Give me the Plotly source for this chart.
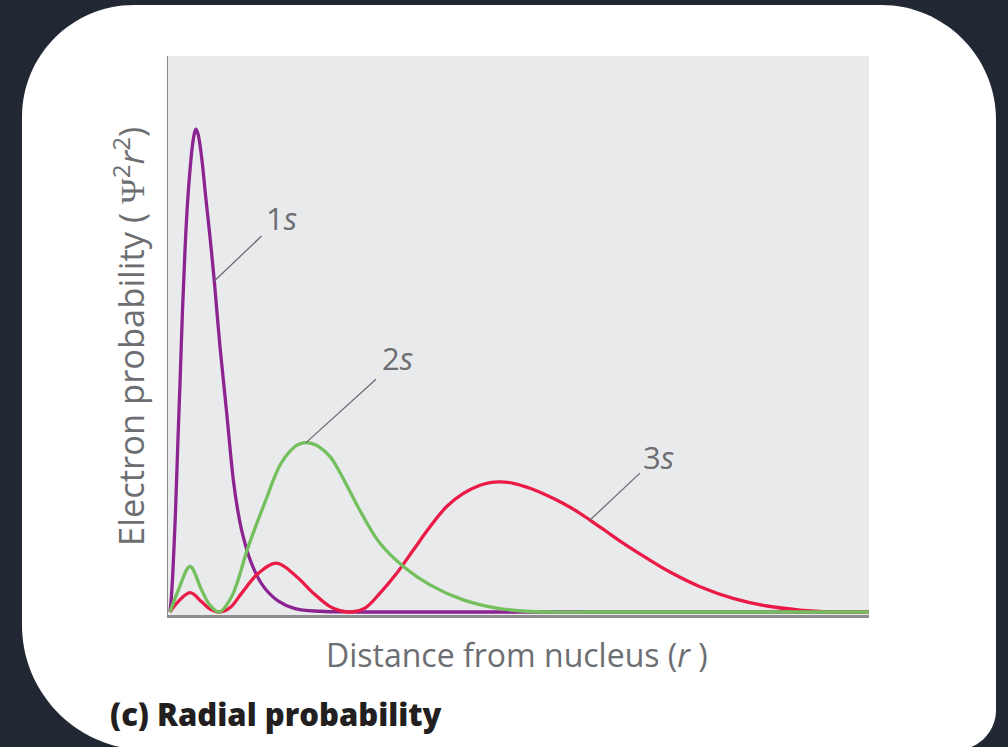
import plotly.graph_objects as go

# Radial distance from the nucleus (in units of the Bohr radius) and the
# relative radial probability.
r_1s = [0.077, 0.127, 0.192, 0.288, 0.373, 0.462, 0.558, 0.654, 0.758, 0.846, 0.942,
        1.019, 1.077, 1.154, 1.231, 1.327, 1.442, 1.615, 1.781, 2.0, 2.258, 2.512,
        2.692, 2.858, 3.192, 3.654, 4.231, 4.885, 5.846, 7.385, 26.962]
p_1s = [0.0, 0.029, 0.087, 0.207, 0.341, 0.473, 0.624, 0.748, 0.851, 0.913, 0.965,
        0.990, 0.998, 0.988, 0.965, 0.924, 0.862, 0.775, 0.684, 0.548, 0.411, 0.273,
        0.207, 0.163, 0.103, 0.054, 0.023, 0.007, 0.0015, 0.0, 0.0]

r_2s = [0.077, 0.396, 0.846, 1.296, 1.615, 1.973, 2.450, 3.088, 3.731, 4.346, 4.885,
        5.077, 5.308, 5.538, 5.769, 6.231, 6.538, 6.873, 7.512, 8.154, 9.050, 10.077,
        11.358, 12.642, 13.923, 16.615, 26.962]
p_2s = [0.0, 0.045, 0.094, 0.045, 0.014, 0.0, 0.032, 0.135, 0.227, 0.307, 0.342,
        0.3475, 0.350, 0.348, 0.3426, 0.321, 0.2955, 0.262, 0.197, 0.142, 0.094, 0.056,
        0.025, 0.008, 0.001, 0.0, 0.0]

r_3s = [0.077, 0.385, 0.846, 1.296, 1.615, 1.973, 2.385, 2.835, 3.473, 4.181, 4.950,
        5.588, 6.231, 6.615, 7.065, 7.577, 8.154, 8.796, 9.435, 10.077, 10.719,
        11.358, 12.0, 12.385, 12.769, 13.281, 13.923, 14.565, 15.204, 15.769,
        16.231, 16.808, 17.385, 18.346, 19.308, 20.462, 21.731, 23.038, 24.308,
        25.577, 26.962]
p_3s = [0.0, 0.021, 0.040, 0.021, 0.006, 0.0, 0.009, 0.039, 0.080, 0.101, 0.073,
        0.039, 0.011, 0.003, 0.0, 0.008, 0.039, 0.080, 0.128, 0.176, 0.218,
        0.245, 0.262, 0.2676, 0.269, 0.266, 0.2556, 0.2413, 0.2242, 0.2066,
        0.190, 0.1684, 0.1467, 0.1136, 0.0826, 0.0523, 0.0283, 0.0124, 0.0041,
        0.0004, 0.0]

orbital_names = ["1s", "2s", "3s"]
orbital_colors = ["#8b2491", "#74bf5e", "#ea1c47"]

# Where each orbital's leader line touches its curve (index into the series),
# and where the leader line ends / the label sits (data coordinates).
leader_index = {"1s": 18, "2s": 12, "3s": 30}
leader_tail = {"1s": (3.60, 0.777), "2s": (8.00, 0.481), "3s": (18.15, 0.287)}
label_pos = {"1s": (3.68, 0.815), "2s": (8.17, 0.524), "3s": (18.20, 0.320)}

X_RANGE = [0, 26.96]
Y_RANGE = [-0.0062, 1.149]

W, H = 1008, 747
ML, MR, MT, MB = 168, 139, 56, 132
PW, PH = W - ML - MR, H - MT - MB

GREY_TEXT = "#6d6e71"
FONT = "Open Sans"


def paper(px, py):
    """Pixel position on the page -> paper coordinates."""
    return (px - ML) / PW, (H - MB - py) / PH


def rounded_rect_path(x0, y0, x1, y1, r_tl, r_tr, r_br, r_bl):
    k = 0.5523

    def P(px, py):
        x, y = paper(px, py)
        return f"{x:.5f},{y:.5f}"

    parts = [
        f"M {P(x0 + r_tl, y0)}",
        f"L {P(x1 - r_tr, y0)}",
        f"C {P(x1 - r_tr + k * r_tr, y0)} {P(x1, y0 + r_tr - k * r_tr)} {P(x1, y0 + r_tr)}",
        f"L {P(x1, y1 - r_br)}",
        f"C {P(x1, y1 - r_br + k * r_br)} {P(x1 - r_br + k * r_br, y1)} {P(x1 - r_br, y1)}",
        f"L {P(x0 + r_bl, y1)}",
        f"C {P(x0 + r_bl - k * r_bl, y1)} {P(x0, y1 - r_bl + k * r_bl)} {P(x0, y1 - r_bl)}",
        f"L {P(x0, y0 + r_tl)}",
        f"C {P(x0, y0 + r_tl - k * r_tl)} {P(x0 + r_tl - k * r_tl, y0)} {P(x0 + r_tl, y0)}",
        "Z",
    ]
    return " ".join(parts)


fig = go.Figure()

series = {"1s": (r_1s, p_1s), "2s": (r_2s, p_2s), "3s": (r_3s, p_3s)}
# draw order: 1s underneath, then 3s, then 2s on top
for name in ["1s", "3s", "2s"]:
    r, p = series[name]
    color = orbital_colors[orbital_names.index(name)]
    fig.add_trace(go.Scatter(
        x=r, y=p, mode="lines", name=name,
        line=dict(color=color, width=3.3, shape="spline", smoothing=1.0),
        hoverinfo="skip", showlegend=False,
    ))

shapes = [
    # white card behind the chart
    dict(type="path", xref="paper", yref="paper", layer="below",
         path=rounded_rect_path(22, 5, 996, 750, 112, 115, 40, 125),
         fillcolor="#ffffff", line=dict(width=0)),
    # plotting area
    dict(type="rect", xref="paper", yref="paper", layer="below",
         x0=0, y0=0, x1=1, y1=1, fillcolor="#e9eaec", line=dict(width=0)),
]

annotations = []
for name in orbital_names:
    r, p = series[name]
    i = leader_index[name]
    tx, ty = leader_tail[name]
    shapes.append(dict(type="line", xref="x", yref="y", x0=r[i], y0=p[i], x1=tx, y1=ty,
                       line=dict(color=GREY_TEXT, width=1.3), layer="above"))
    lx, ly = label_pos[name]
    annotations.append(dict(
        x=lx, y=ly, xref="x", yref="y", xanchor="left", yanchor="middle",
        text=f"{name[0]}<i>{name[1]}</i>", showarrow=False,
        font=dict(family=FONT, size=31, color=GREY_TEXT),
    ))

ax_x, ax_y = paper(517, 654)
annotations.append(dict(
    x=ax_x, y=ax_y, xref="paper", yref="paper", xanchor="center", yanchor="middle",
    text="Distance from nucleus (<i>r</i> )", showarrow=False,
    font=dict(family=FONT, size=32, color=GREY_TEXT),
))
ay_x, ay_y = paper(129, 337)
annotations.append(dict(
    x=ay_x, y=ay_y, xref="paper", yref="paper", xanchor="center", yanchor="middle",
    text=("Electron probability ( <span style=\"font-family:'Liberation Serif'\">Ψ</span>"
          "<sup>2</sup><i>r</i><sup>2</sup>)"),
    showarrow=False,
    textangle=-90, font=dict(family=FONT, size=34.5, color=GREY_TEXT),
))
t_x, t_y = paper(108, 714)
annotations.append(dict(
    x=t_x, y=t_y, xref="paper", yref="paper", xanchor="left", yanchor="middle",
    text="(c) Radial probability", showarrow=False,
    font=dict(family=FONT, size=31, weight=800, color="#231f20"),
))

fig.update_layout(
    width=W, height=H,
    margin=dict(l=ML, r=MR, t=MT, b=MB, pad=0),
    paper_bgcolor="#212834",
    plot_bgcolor="rgba(0,0,0,0)",
    shapes=shapes,
    annotations=annotations,
    xaxis=dict(range=X_RANGE, showgrid=False, zeroline=False, showticklabels=False,
               ticks="", showline=True, linecolor="#8e8e8e", linewidth=2.5, fixedrange=True),
    yaxis=dict(range=Y_RANGE, showgrid=False, zeroline=False, showticklabels=False,
               ticks="", showline=True, linecolor="#8a8a8a", linewidth=1.3, fixedrange=True),
)

fig.write_html("out.html")
